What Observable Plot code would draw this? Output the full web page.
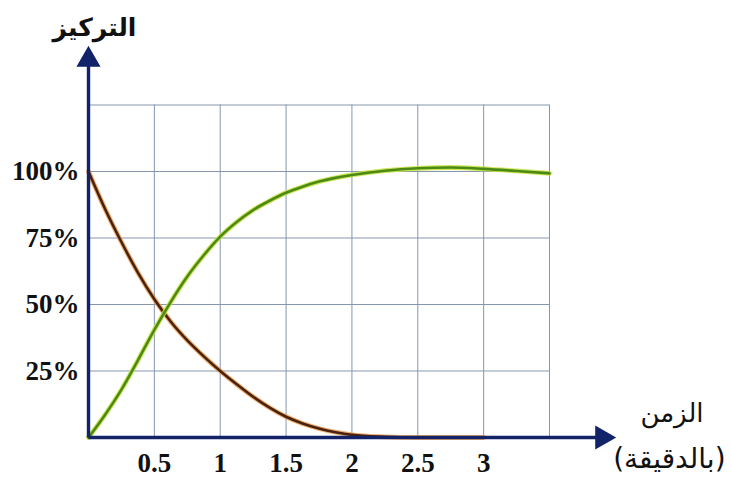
<!DOCTYPE html>
<html>
<head>
<meta charset="utf-8">
<script src="https://cdn.jsdelivr.net/npm/d3@7"></script>
<script src="https://cdn.jsdelivr.net/npm/@observablehq/plot@0.6"></script>
<style>
  html, body { margin: 0; padding: 0; background: #ffffff; }
  #chart svg { display: block; }
</style>
</head>
<body>
<div id="chart"></div>
<script>
// Data
const timesRising = [0, 0.125, 0.25, 0.375, 0.5, 0.625, 0.75, 0.875, 1, 1.125, 1.25, 1.375, 1.5, 1.625, 1.75, 1.875, 2, 2.25, 2.5, 2.75, 3, 3.25, 3.5];
const rising      = [0, 8.5, 18, 29, 40.5, 51, 60.5, 68.5, 75.5, 81, 85.5, 89, 92, 94.3, 96.2, 97.6, 98.7, 100.3, 101.2, 101.5, 101, 100.2, 99.3];
const timesFalling = [0, 0.125, 0.25, 0.375, 0.5, 0.625, 0.75, 0.875, 1, 1.125, 1.25, 1.375, 1.5, 1.625, 1.75, 1.875, 2, 2.25, 2.5, 2.75, 3];
const falling      = [100, 86, 73.5, 62, 52, 43.5, 36.5, 30.5, 25, 20, 15.3, 11.2, 7.8, 5.3, 3.4, 2, 1, 0.25, 0, 0, 0];
const xGrid = [0.5, 1, 1.5, 2, 2.5, 3, 3.5];
const yGrid = [25, 50, 75, 100, 125];
const xTicks = [0.5, 1, 1.5, 2, 2.5, 3];
const xTickLabels = ["0.5", "1", "1.5", "2", "2.5", "3"];
const yTicks = [25, 50, 75, 100];
const yTickLabels = ["25%", "50%", "75%", "100%"];
const yTitle = "التركيز";
const xTitle1 = "الزمن";
const xTitle2 = "(بالدقيقة)";

const risingData = timesRising.map((t, i) => ({t, v: rising[i]}));
const fallingData = timesFalling.map((t, i) => ({t, v: falling[i]}));

const axisColor = "#13236a";
const gridColor = "#8597ae";
const serif = "'Liberation Serif', 'DejaVu Serif', serif";
const arabic = "'DejaVu Sans', sans-serif";

const chart = Plot.plot({
  width: 731,
  height: 484,
  margin: 0,
  style: {background: "#ffffff", overflow: "visible"},
  x: {domain: [0, 3.5], range: [88, 549], axis: null},
  y: {domain: [0, 125], range: [437, 104.5], axis: null},
  marks: [
    Plot.ruleX(xGrid, {x: d => d, y1: 0, y2: 125, stroke: gridColor, strokeWidth: 1}),
    Plot.ruleY(yGrid, {y: d => d, x1: 0, x2: 3.5, stroke: gridColor, strokeWidth: 1}),
    // falling curve (brown with orange halo)
    Plot.line(fallingData, {x: "t", y: "v", curve: "monotone-x", stroke: "#e89a4a", strokeWidth: 4.8, strokeOpacity: 0.8}),
    Plot.line(fallingData, {x: "t", y: "v", curve: "monotone-x", stroke: "#4a2210", strokeWidth: 2.6}),
    // rising curve (green with yellow halo)
    Plot.line(risingData, {x: "t", y: "v", curve: "monotone-x", stroke: "#c4e23c", strokeWidth: 4.8, strokeOpacity: 0.85}),
    Plot.line(risingData, {x: "t", y: "v", curve: "monotone-x", stroke: "#4d8a14", strokeWidth: 2.6}),
    // axes with arrows
    Plot.link([{x1: 0, y1: 0, x2: 0, y2: 141}], {x1: "x1", y1: "y1", x2: "x2", y2: "y2", stroke: axisColor, strokeWidth: 3.4}),
    Plot.link([{x1: 0, y1: 0, x2: 3.88, y2: 0}], {x1: "x1", y1: "y1", x2: "x2", y2: "y2", stroke: axisColor, strokeWidth: 3.4}),
    Plot.dot([{x: 0, y: 142}], {x: "x", y: "y", symbol: "triangle", r: 8, fill: axisColor, stroke: axisColor, rotate: 0}),
    Plot.dot([{x: 3.9, y: 0}], {x: "x", y: "y", symbol: "triangle", r: 8, fill: axisColor, stroke: axisColor, rotate: 90}),
    // tick labels
    Plot.text(xTicks, {x: d => d, y: 0, dy: 26, text: (d, i) => xTickLabels[i], fontFamily: serif, fontWeight: "bold", fontSize: 27, fill: "#111"}),
    Plot.text(yTicks, {x: 0, y: d => d, dx: -9, text: (d, i) => yTickLabels[i], textAnchor: "end", fontFamily: serif, fontWeight: "bold", fontSize: 27, fill: "#111"}),
    // titles
    Plot.text([yTitle], {x: 0.045, y: 154, text: d => d, fontFamily: arabic, fontWeight: "bold", fontSize: 25, fill: "#111"}),
    Plot.text([xTitle1], {x: 4.43, y: 9, text: d => d, fontFamily: arabic, fontSize: 26, fill: "#111"}),
    Plot.text([xTitle2], {x: 4.41, y: -8, text: d => d, fontFamily: arabic, fontSize: 28, fill: "#111"})
  ]
});
document.getElementById("chart").appendChild(chart);
</script>
</body>
</html>
